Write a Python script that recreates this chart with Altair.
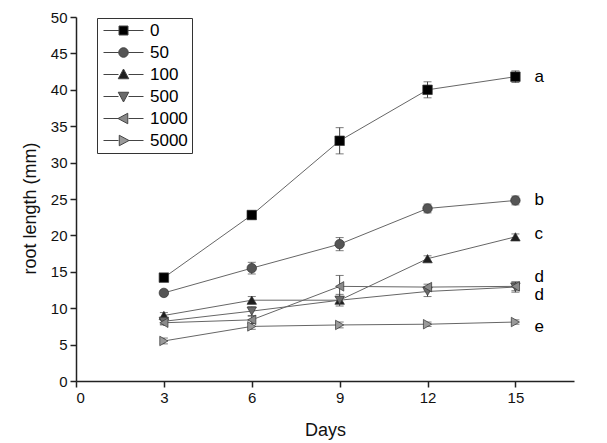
import altair as alt
import pandas as pd

days = [3, 6, 9, 12, 15]
series = ["0", "50", "100", "500", "1000", "5000"]
values = {
    "0":    [14.2, 22.8, 33.0, 40.0, 41.8],
    "50":   [12.1, 15.5, 18.8, 23.7, 24.8],
    "100":  [9.0, 11.1, 11.1, 16.8, 19.8],
    "500":  [8.2, 9.6, 11.1, 12.3, 12.9],
    "1000": [8.0, 8.4, 13.0, 12.9, 13.0],
    "5000": [5.5, 7.5, 7.7, 7.8, 8.1],
}
errors = {
    "0":    [0.3, 0.6, 1.8, 1.1, 0.8],
    "50":   [0.3, 0.8, 0.9, 0.6, 0.6],
    "100":  [0.4, 0.5, 0.4, 0.4, 0.4],
    "500":  [0.4, 0.6, 0.8, 0.7, 0.7],
    "1000": [0.3, 0.5, 1.5, 0.4, 0.6],
    "5000": [0.4, 0.4, 0.4, 0.3, 0.3],
}
fills = ["#000000", "#555555", "#1e1e1e", "#6a6a6a", "#8a8a8a", "#9a9a9a"]
shapes = ["square", "circle", "triangle-up", "triangle-down", "triangle-left", "triangle-right"]
legend_paths = [
    "M-4,0H-0.9M0.9,0H4M-0.9,-0.9H0.9V0.9H-0.9Z",
    "M-4,0H-0.95M0.95,0H4M-0.95,0A0.95,0.95,0,1,0,0.95,0A0.95,0.95,0,1,0,-0.95,0Z",
    "M-4,0H-1M1,0H4M0,-1.1L1.05,0.85H-1.05Z",
    "M-4,0H-1M1,0H4M0,1.1L1.05,-0.85H-1.05Z",
    "M-4,0H-1M1,0H4M-1.1,0L0.85,1.05V-1.05Z",
    "M-4,0H-1M1,0H4M1.1,0L-0.85,1.05V-1.05Z",
]
x_ticks = [0, 3, 6, 9, 12, 15]
y_ticks = [0, 5, 10, 15, 20, 25, 30, 35, 40, 45, 50]
letters = ["a", "b", "c", "d", "d", "e"]
letter_y = [41.8, 24.9, 20.2, 14.3, 11.8, 7.4]
letter_x = 15.65

rows = []
for s in series:
    for d, v, e in zip(days, values[s], errors[s]):
        rows.append({"day": d, "len": v, "lo": v - e, "hi": v + e, "conc": s, "conc2": s})
df = pd.DataFrame(rows)
lab = pd.DataFrame({"day": [letter_x] * len(letters), "len": letter_y, "t": letters})

xs = alt.Scale(domain=[0, 17], nice=False)
ys = alt.Scale(domain=[0, 50], nice=False)
xaxis = alt.Axis(values=x_ticks, title="Days", labelOverlap=False)
yaxis = alt.Axis(values=y_ticks, title="root length (mm)", labelOverlap=False, titleY=191)
X = alt.X("day:Q", scale=xs, axis=xaxis)
Y = alt.Y("len:Q", scale=ys, axis=yaxis)
YLO = alt.Y("lo:Q", scale=ys, axis=yaxis)
YHI = alt.Y("hi:Q", scale=ys, axis=yaxis)

base = alt.Chart(df)
lines = base.mark_line(color="#666666", strokeWidth=1).encode(x=X, y=Y, detail="conc:N")
rules = base.mark_rule(color="#444444", strokeWidth=1).encode(x=X, y=YLO, y2="hi:Q")
cap_lo = base.mark_tick(color="#444444", orient="horizontal", size=8, thickness=1).encode(x=X, y=YLO)
cap_hi = base.mark_tick(color="#444444", orient="horizontal", size=8, thickness=1).encode(x=X, y=YHI)
points = base.mark_point(filled=True, size=90, stroke="#333333", strokeWidth=0.7, opacity=1).encode(
    x=X, y=Y,
    color=alt.Color("conc:N", scale=alt.Scale(domain=series, range=fills), legend=None),
    shape=alt.Shape("conc:N", scale=alt.Scale(domain=series, range=shapes), legend=None),
)
leg = base.transform_filter("false").mark_point(filled=True, size=100, stroke="#444444", strokeWidth=1, opacity=1).encode(
    color=alt.Color("conc2:N", scale=alt.Scale(domain=series, range=fills),
                    legend=alt.Legend(title=None, orient="none", legendX=21, legendY=1)),
    shape=alt.Shape("conc2:N", scale=alt.Scale(domain=series, range=legend_paths),
                    legend=alt.Legend(title=None, orient="none", legendX=21, legendY=1)),
)
texts = alt.Chart(lab).mark_text(align="left", baseline="middle", fontSize=17, font="Liberation Sans", color="#000").encode(
    x=X, y=Y, text="t:N"
)

chart = alt.layer(lines, rules, cap_lo, cap_hi, points, leg, texts).resolve_scale(
    color="independent", shape="independent"
).properties(
    width=498, height=364,
    autosize=alt.AutoSizeParams(type="none"),
    padding={"left": 68, "top": 9, "right": 25, "bottom": 62},
).configure_view(stroke=None).configure_axis(
    grid=False, domainColor="#222222", domainWidth=1.5, tickColor="#222222", tickWidth=1.5, tickSize=6,
    labelFont="Liberation Sans", labelFontSize=15, labelColor="#111111", labelPadding=3,
    titleFont="Liberation Sans", titleFontSize=18, titleFontWeight="normal", titleColor="#111111",
).configure_axisX(titlePadding=16).configure_axisY(titlePadding=11).configure_legend(
    labelFont="Liberation Sans", labelFontSize=17, labelColor="#000",
    strokeColor="#333333", padding=4, rowPadding=4, symbolOffset=14, labelOffset=18,
    symbolStrokeColor="#444444", symbolStrokeWidth=1, symbolSize=100,
)

chart.save("out.html", embed_options={"renderer": "svg", "actions": False})
